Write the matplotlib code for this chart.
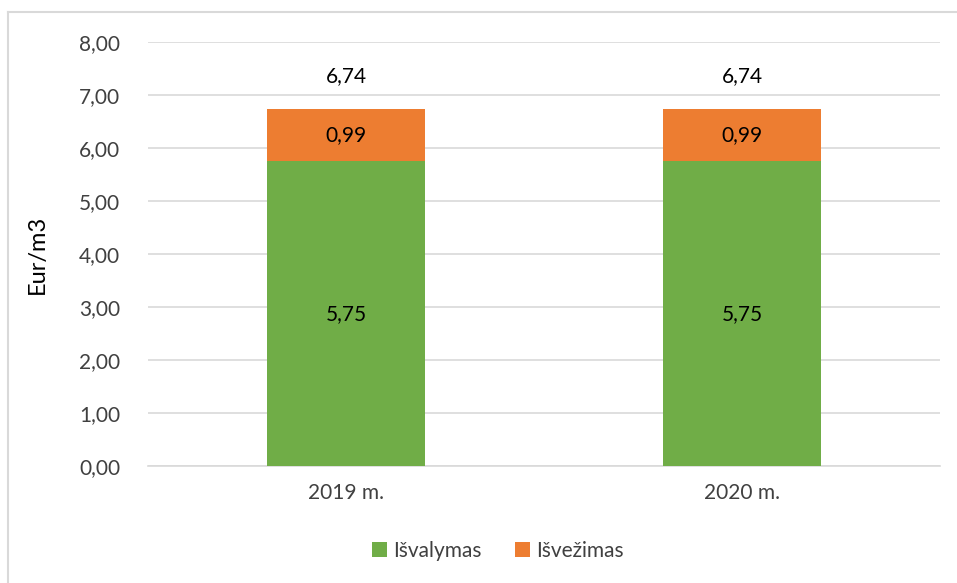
import numpy as np
import matplotlib.pyplot as plt
from matplotlib.lines import Line2D

# data
years = ["2019 m.", "2020 m."]
isvalymas = [5.75, 5.75]
isvezimas = [0.99, 0.99]
yticks = [0, 1, 2, 3, 4, 5, 6, 7, 8]

green = "#70AD47"
orange = "#ED7D31"
grid_col = "#D9D9D9"
txt = "#404040"

plt.rcParams["font.family"] = ["Lato", "DejaVu Sans"]

fig = plt.figure(figsize=(9.57, 5.83), dpi=100)
ax = fig.add_axes([148/957, 1 - 466/583, (940 - 148)/957, (466 - 42)/583])

x = np.arange(len(years))
top_tot = np.array(isvalymas) + np.array(isvezimas)

ax.bar(x, isvalymas, width=0.4, color=green, label="Išvalymas", zorder=3)
ax.bar(x, isvezimas, width=0.4, bottom=isvalymas, color=orange, label="Išvežimas", zorder=3)

# labels inside and above bars
for xi, a, b, t in zip(x, isvalymas, isvezimas, top_tot):
    ax.text(xi, a / 2, f"{a:.2f}".replace(".", ","), ha="center", va="center",
            fontsize=15, color="black", zorder=4)
    ax.text(xi, a + b / 2, f"{b:.2f}".replace(".", ","), ha="center", va="center",
            fontsize=15, color="black", zorder=4)
    ax.text(xi, t + 0.62, f"{t:.2f}".replace(".", ","), ha="center", va="center",
            fontsize=15, color="black", zorder=4)

ax.set_xlim(-0.5, 1.5)
ax.set_ylim(0, 8)
ax.set_yticks(yticks)
ax.set_yticklabels([f"{v:.2f}".replace(".", ",") for v in yticks], fontsize=15, color=txt)
ax.set_xticks(x)
ax.set_xticklabels(years, fontsize=15, color=txt)
ax.tick_params(length=0, axis="y", pad=20)
ax.tick_params(length=0, axis="x", pad=12)
ax.grid(axis="y", color=grid_col, linewidth=1.2, zorder=0)
for s in ["top", "right", "left"]:
    ax.spines[s].set_visible(False)
ax.spines["bottom"].set_color(grid_col)
ax.spines["bottom"].set_linewidth(1.2)

fig.text(37/957, 1 - 254/583, "Eur/m3", rotation=90, ha="center", va="center",
         fontsize=17, color="black")

ax.legend(loc="center", bbox_to_anchor=(498/957, 1 - 551/583), bbox_transform=fig.transFigure,
          ncol=2, frameon=False, fontsize=15, handlelength=0.7, handleheight=0.7,
          handletextpad=0.3, columnspacing=1.6, labelcolor=txt)

# outer chart border (left and top visible)
fig.add_artist(Line2D([8/957, 8/957], [0, 1 - 12/583], transform=fig.transFigure,
                      color=grid_col, linewidth=1.5))
fig.add_artist(Line2D([8/957, 1], [1 - 12/583, 1 - 12/583], transform=fig.transFigure,
                      color=grid_col, linewidth=1.5))

fig.savefig("out.png", dpi=100)
